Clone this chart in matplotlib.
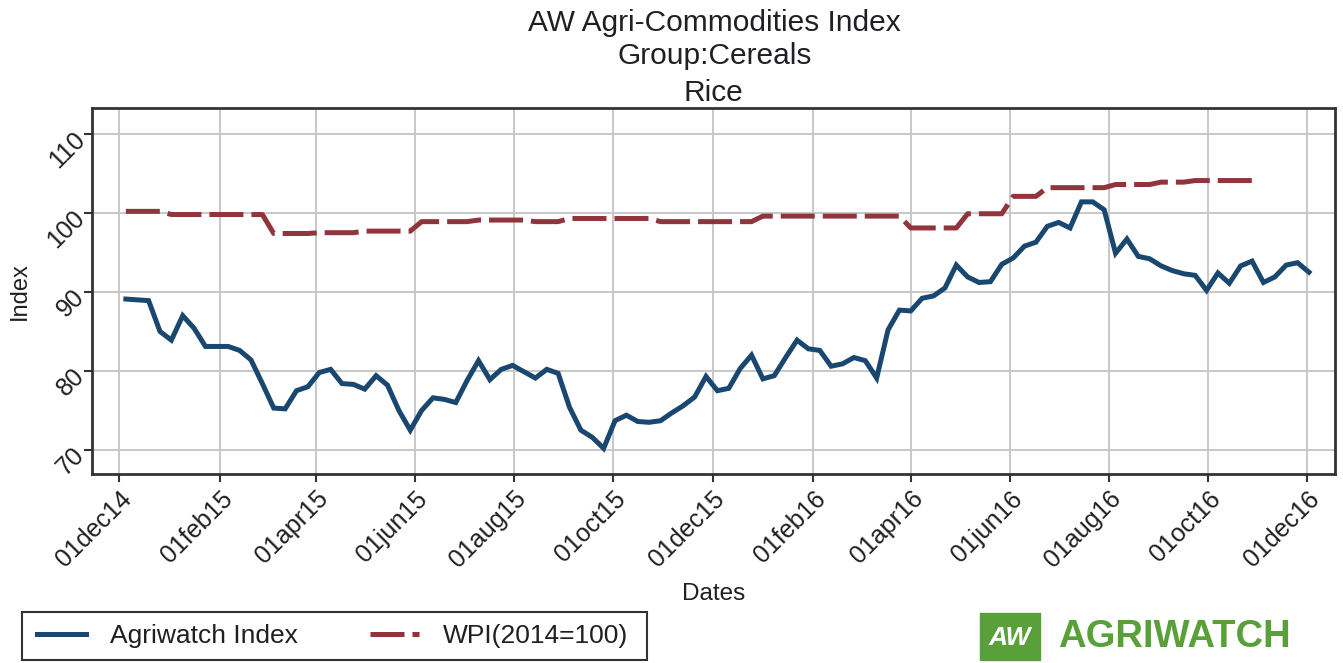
import numpy as np
import pandas as pd
import matplotlib
matplotlib.use("Agg")
import matplotlib.pyplot as plt
import matplotlib.dates as mdates
from matplotlib.patches import Rectangle

plt.rcParams['font.family'] = ['Liberation Sans', 'DejaVu Sans']

# Weekly Agriwatch rice index (first week: 05dec14)
agri_index = [
    89.1, 89.0, 88.9, 85.0, 83.9, 87.0, 85.4, 83.1, 83.1, 83.1,
    82.6, 81.4, 78.4, 75.3, 75.2, 77.5, 78.0, 79.8, 80.2, 78.4,
    78.3, 77.7, 79.4, 78.2, 75.0, 72.5, 75.0, 76.6, 76.4, 76.0,
    78.8, 81.3, 78.9, 80.2, 80.7, 79.9, 79.1, 80.2, 79.7, 75.4,
    72.5, 71.6, 70.2, 73.7, 74.4, 73.6, 73.5, 73.7, 74.7, 75.6,
    76.7, 79.3, 77.5, 77.8, 80.3, 82.0, 79.0, 79.4, 81.7, 83.9,
    82.8, 82.6, 80.6, 80.9, 81.7, 81.3, 79.1, 85.2, 87.7, 87.6,
    89.2, 89.5, 90.5, 93.4, 91.9, 91.2, 91.3, 93.5, 94.3, 95.8,
    96.3, 98.3, 98.8, 98.1, 101.4, 101.4, 100.4, 94.9, 96.7, 94.5,
    94.2, 93.3, 92.7, 92.3, 92.1, 90.2, 92.4, 91.1, 93.3, 93.9,
    91.2, 91.9, 93.4, 93.7, 92.5,
]

# WPI (2014=100): level and number of weeks it holds
wpi_levels = [100.2, 99.8, 97.4, 97.5, 97.7, 98.9, 99.1, 98.9, 99.3,
              98.9, 99.6, 98.1, 99.9, 102.1, 103.2, 103.6, 103.9, 104.1]
wpi_weeks = [4, 9, 4, 4, 5, 5, 5, 3, 8, 9, 13, 5, 4, 3, 6, 4, 3, 6]

dates = pd.date_range(start="2014-12-05", periods=len(agri_index), freq="7D")
wpi = np.repeat(wpi_levels, wpi_weeks)

navy = "#1a476f"
maroon = "#90353b"
txt = "#1f1f24"
W, H = 1343, 663

fig = plt.figure(figsize=(W / 100, H / 100), dpi=100)
ax = fig.add_axes([0.0683, 0.285, 0.9257, 0.5517])

ax.plot(dates, agri_index, color=navy, lw=3.6, solid_joinstyle="miter",
        label="Agriwatch Index", zorder=3)
ax.plot(dates[:len(wpi)], wpi, color=maroon, lw=3.6, dashes=(6.8, 1.6),
        label="WPI(2014=100)", zorder=3)

ax.set_xlim(pd.Timestamp("2014-11-14"), pd.Timestamp("2016-12-18"))
ax.set_ylim(66.95, 113.25)
ax.set_yticks([70, 80, 90, 100, 110])
ax.xaxis.set_major_locator(mdates.MonthLocator(bymonth=[2, 4, 6, 8, 10, 12]))
ax.xaxis.set_major_formatter(
    matplotlib.ticker.FuncFormatter(lambda v, p: mdates.num2date(v).strftime("%d%b%y").lower()))

ax.grid(True, color="#c8c8c8", lw=1.4)
ax.set_axisbelow(True)
for s in ax.spines.values():
    s.set_linewidth(2.0)
    s.set_color("#333333")
ax.tick_params(axis="both", length=6, width=1.5, color="#333333",
               labelsize=18, labelcolor=txt, pad=3)
plt.setp(ax.get_xticklabels(), rotation=45, ha="right", rotation_mode="anchor")
plt.setp(ax.get_yticklabels(), rotation=45, ha="right", rotation_mode="anchor")

ax.set_xlabel("Dates", fontsize=17.5, color=txt, labelpad=8)
ax.set_ylabel("Index", fontsize=17, color=txt, labelpad=9)

fig.text(0.532, 0.966, "AW Agri-Commodities Index", ha="center", va="center",
         fontsize=21.5, color=txt)
fig.text(0.532, 0.915, "Group:Cereals", ha="center", va="center",
         fontsize=21.5, color=txt)
ax.set_title("Rice", fontsize=21.5, color=txt, pad=5)

# legend box drawn separately so it keeps the reference width
fig.patches.append(Rectangle((22 / W, 3 / H), 625 / W, 48 / H, transform=fig.transFigure,
                             fill=False, edgecolor="#333333", lw=1.5))
leg = fig.legend(loc="center left", bbox_to_anchor=(37 / W, 27 / H),
                 ncol=2, fontsize=19, frameon=False,
                 handlelength=1.85, handletextpad=0.9, columnspacing=2.75,
                 borderaxespad=0, borderpad=0)
for t in leg.get_texts():
    t.set_color(txt)

# logo
green = "#59a03a"
fig.patches.append(Rectangle((980 / W, 3 / H), 60 / W, 47 / H,
                             transform=fig.transFigure, color=green))
fig.text(1010 / W, 25 / H, "AW", ha="center", va="center", fontsize=19,
         fontweight="bold", style="italic", color="white")
fig.text(1058 / W, 26 / H, "AGRIWATCH", ha="left", va="center", fontsize=27.5,
         fontweight="bold", color=green)

fig.savefig("out.png", dpi=100)
